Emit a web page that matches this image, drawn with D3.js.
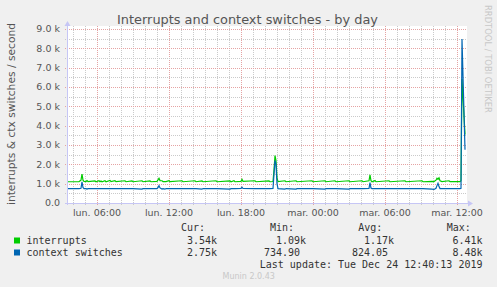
<!DOCTYPE html>
<html lang="fr">
<head>
<meta charset="UTF-8" />
<title>Interrupts and context switches - by day</title>
<style>
  body { margin: 0; background: #f0f0f0; }
  svg { display: block; font-family: "DejaVu Sans", sans-serif; }
  .mono { font-family: "DejaVu Sans Mono", monospace; font-size: 10px; fill: #333; white-space: pre; }
</style>
</head>
<body>
<svg id="chart"></svg>
<script src="https://cdnjs.cloudflare.com/ajax/libs/d3/7.8.5/d3.min.js"></script>
<script>
// sample times (5 min steps, only where the line changes) and values per second
const times = [
  "2019-12-23 03:30", "2019-12-23 04:30", "2019-12-23 04:40", "2019-12-23 04:45", "2019-12-23 04:50",
  "2019-12-23 04:55", "2019-12-23 05:05", "2019-12-23 05:10", "2019-12-23 05:15", "2019-12-23 05:50",
  "2019-12-23 05:55", "2019-12-23 06:10", "2019-12-23 06:15", "2019-12-23 06:20", "2019-12-23 06:25",
  "2019-12-23 06:40", "2019-12-23 06:45", "2019-12-23 07:05", "2019-12-23 07:10", "2019-12-23 07:30",
  "2019-12-23 07:35", "2019-12-23 08:20", "2019-12-23 08:25", "2019-12-23 08:55", "2019-12-23 09:00",
  "2019-12-23 09:45", "2019-12-23 09:50", "2019-12-23 10:25", "2019-12-23 10:30", "2019-12-23 11:00",
  "2019-12-23 11:05", "2019-12-23 11:10", "2019-12-23 11:15", "2019-12-23 11:25", "2019-12-23 11:30",
  "2019-12-23 11:40", "2019-12-23 11:45", "2019-12-23 12:00", "2019-12-23 12:05", "2019-12-23 13:05",
  "2019-12-23 13:10", "2019-12-23 14:10", "2019-12-23 14:15", "2019-12-23 14:45", "2019-12-23 14:50",
  "2019-12-23 15:55", "2019-12-23 16:00", "2019-12-23 17:05", "2019-12-23 17:10", "2019-12-23 17:25",
  "2019-12-23 17:30", "2019-12-23 18:00", "2019-12-23 18:05", "2019-12-23 18:10", "2019-12-23 19:10",
  "2019-12-23 19:15", "2019-12-23 20:20", "2019-12-23 20:25", "2019-12-23 20:40", "2019-12-23 20:45",
  "2019-12-23 20:50", "2019-12-23 20:55", "2019-12-23 21:00", "2019-12-23 21:05", "2019-12-23 21:40",
  "2019-12-23 21:45", "2019-12-23 22:35", "2019-12-23 22:40", "2019-12-23 23:55", "2019-12-24 00:00",
  "2019-12-24 01:00", "2019-12-24 01:05", "2019-12-24 01:50", "2019-12-24 01:55", "2019-12-24 03:00",
  "2019-12-24 03:05", "2019-12-24 04:05", "2019-12-24 04:10", "2019-12-24 04:40", "2019-12-24 04:45",
  "2019-12-24 04:50", "2019-12-24 04:55", "2019-12-24 05:10", "2019-12-24 05:15", "2019-12-24 06:20",
  "2019-12-24 06:25", "2019-12-24 07:40", "2019-12-24 07:45", "2019-12-24 09:05", "2019-12-24 09:10",
  "2019-12-24 09:55", "2019-12-24 10:05", "2019-12-24 10:15", "2019-12-24 10:20", "2019-12-24 10:25",
  "2019-12-24 10:30", "2019-12-24 10:35", "2019-12-24 10:45", "2019-12-24 11:20", "2019-12-24 11:25",
  "2019-12-24 12:15", "2019-12-24 12:20", "2019-12-24 12:25", "2019-12-24 12:40"
];
const interrupts = [
  1100, 1110, 1180, 1500, 1180, 1120, 1110, 1160, 1110, 1140,
  1100, 1150, 1100, 1140, 1100, 1150, 1100, 1170, 1105, 1150,
  1105, 1150, 1100, 1140, 1100, 1150, 1100, 1140, 1100, 1120,
  1200, 1280, 1160, 1150, 1110, 1110, 1110, 1150, 1105, 1150,
  1100, 1150, 1100, 1140, 1100, 1150, 1100, 1140, 1100, 1150,
  1100, 1120, 1220, 1120, 1150, 1100, 1140, 1100, 1110, 1700,
  2450, 2200, 1300, 1110, 1150, 1100, 1150, 1100, 1150, 1100,
  1150, 1100, 1150, 1100, 1150, 1100, 1150, 1100, 1150, 1450,
  1150, 1100, 1160, 1100, 1150, 1100, 1150, 1100, 1150, 1100,
  1120, 1110, 1180, 1280, 1230, 1300, 1150, 1110, 1150, 1110,
  1110, 1150, 6410, 3540
];
const contextSwitches = [
  745, 745, 760, 1090, 800, 745, 745, 720, 745, 745,
  745, 745, 745, 745, 745, 745, 745, 745, 745, 745,
  745, 745, 745, 740, 745, 720, 745, 745, 745, 745,
  800, 900, 780, 720, 745, 715, 745, 745, 745, 745,
  745, 745, 745, 715, 745, 745, 745, 720, 745, 745,
  745, 760, 820, 750, 745, 745, 745, 745, 750, 1500,
  2200, 2000, 1000, 745, 715, 745, 720, 745, 745, 745,
  720, 745, 745, 745, 720, 745, 745, 745, 760, 1050,
  770, 745, 745, 745, 745, 745, 745, 745, 745, 745,
  720, 700, 760, 900, 1020, 850, 745, 745, 745, 745,
  745, 760, 8480, 2750
];

const seriesNames = ["interrupts", "context switches"];
const seriesColors = ["#00cc00", "#0066b3"];
const curValues = [3540, 2750];
const minValues = [1090, 734.90];
const avgValues = [1170, 824.05];
const maxValues = [6410, 8480];
const yTickValues = [0, 1000, 2000, 3000, 4000, 5000, 6000, 7000, 8000, 9000];

const W = 497, H = 287;
const plotLeft = 67, plotRight = 467, plotTop = 29, plotBottom = 203;

const parse = d3.timeParse("%Y-%m-%d %H:%M");
const dates = times.map(parse);

const fr = d3.timeFormatLocale({
  dateTime: "%A %e %B %Y à %X", date: "%d/%m/%Y", time: "%H:%M:%S",
  periods: ["AM", "PM"],
  days: ["dimanche", "lundi", "mardi", "mercredi", "jeudi", "vendredi", "samedi"],
  shortDays: ["dim.", "lun.", "mar.", "mer.", "jeu.", "ven.", "sam."],
  months: ["janvier", "février", "mars", "avril", "mai", "juin", "juillet", "août", "septembre", "octobre", "novembre", "décembre"],
  shortMonths: ["janv.", "févr.", "mars", "avr.", "mai", "juin", "juil.", "août", "sept.", "oct.", "nov.", "déc."]
});

const svg = d3.select("#chart").attr("width", W).attr("height", H);
svg.append("rect").attr("width", W).attr("height", H).attr("fill", "#f0f0f0");

const x = d3.scaleTime()
  .domain([parse("2019-12-23 03:30"), parse("2019-12-24 12:50")])
  .range([plotLeft, plotRight]);
const y = d3.scaleLinear().domain([0, 9000]).range([plotBottom, plotTop]);

// plot canvas
svg.append("rect")
  .attr("x", plotLeft).attr("y", 26)
  .attr("width", plotRight - plotLeft).attr("height", plotBottom - 26)
  .attr("fill", "#ffffff");

const crisp = (v) => Math.round(v) + 0.5;

// vertical grid
const hours = x.ticks(d3.timeHour.every(1));
const sixHours = x.ticks(d3.timeHour.every(6));
svg.append("g").selectAll("line").data(hours).join("line")
  .attr("x1", (d) => crisp(x(d))).attr("x2", (d) => crisp(x(d)))
  .attr("y1", plotTop - 3).attr("y2", plotBottom + 2)
  .attr("stroke", (d) => d.getHours() % 6 === 0 ? "#e5a3a3" : "#cacaca")
  .attr("stroke-dasharray", "1,1");

// horizontal grid
const halfK = d3.range(500, 9500, 500);
svg.append("g").selectAll("line").data(halfK).join("line")
  .attr("x1", plotLeft - 2).attr("x2", plotRight)
  .attr("y1", (d) => crisp(y(d))).attr("y2", (d) => crisp(y(d)))
  .attr("stroke", (d) => d % 1000 === 0 ? "#e5a3a3" : "#cacaca")
  .attr("stroke-dasharray", "1,1");

// series lines (interrupts first, context switches on top)
const line = (vals) => d3.line()
  .x((d, i) => x(dates[i]))
  .y((d) => y(d))(vals);

[interrupts, contextSwitches].forEach((vals, i) => {
  svg.append("path")
    .attr("d", line(vals))
    .attr("fill", "none")
    .attr("stroke", seriesColors[i])
    .attr("stroke-width", 1.2);
});

// axes with arrows
const axisColor = "#c6c6f5";
svg.append("line").attr("x1", plotLeft + 0.5).attr("x2", plotLeft + 0.5)
  .attr("y1", plotBottom + 2).attr("y2", 24).attr("stroke", axisColor);
svg.append("path").attr("d", `M${plotLeft - 2.5},26 L${plotLeft + 3.5},26 L${plotLeft + 0.5},21 Z`).attr("fill", axisColor);
svg.append("line").attr("x1", plotLeft - 2).attr("x2", plotRight + 2)
  .attr("y1", plotBottom + 0.5).attr("y2", plotBottom + 0.5).attr("stroke", axisColor);
svg.append("path").attr("d", `M${plotRight + 1},${plotBottom - 2.5} L${plotRight + 1},${plotBottom + 3.5} L${plotRight + 6},${plotBottom + 0.5} Z`).attr("fill", axisColor);

// y tick labels
svg.append("g").selectAll("text").data(yTickValues).join("text")
  .attr("x", 60).attr("y", (d) => y(d))
  .attr("dy", "0.35em")
  .attr("text-anchor", "end")
  .attr("font-size", "9.5px")
  .attr("fill", "#555")
  .text((d) => d === 0 ? "0.0" : (d / 1000).toFixed(1) + " k");

// x tick labels
const fmt = fr.format("%a %H:%M");
svg.append("g").selectAll("text").data(sixHours).join("text")
  .attr("x", (d) => x(d)).attr("y", 216)
  .attr("text-anchor", "middle")
  .attr("font-size", "9.5px")
  .attr("fill", "#555")
  .text(fmt);

// title
svg.append("text")
  .attr("x", 247.5).attr("y", 23.5)
  .attr("text-anchor", "middle")
  .attr("font-size", "12.9px")
  .attr("fill", "#555")
  .text("Interrupts and context switches - by day");

// vertical label
svg.append("text")
  .attr("transform", "translate(15,114) rotate(-90)")
  .attr("text-anchor", "middle")
  .attr("font-size", "10.7px")
  .attr("fill", "#555")
  .text("interrupts & ctx switches / second");

// watermark
svg.append("text")
  .attr("transform", "translate(485,5) rotate(90)")
  .attr("font-size", "8.4px")
  .attr("fill", "#c8c8c8")
  .text("RRDTOOL / TOBI OETIKER");

// legend
const fmtVal = (v) => v >= 1000 ? (v / 1000).toFixed(2) + "k" : v.toFixed(2);
const colEnds = [217, 306, 394, 482.5];
const colStarts = [181, 270, 358.3, 446.7];
const headers = ["Cur:", "Min:", "Avg:", "Max:"];
const cols = [curValues, minValues, avgValues, maxValues];
const rowY = [244, 256];

const legend = svg.append("g");
legend.selectAll("text.h").data(headers).join("text")
  .attr("class", "mono h")
  .attr("x", (d, i) => colStarts[i]).attr("y", 231)
  .text((d) => d);

seriesNames.forEach((name, r) => {
  legend.append("rect")
    .attr("x", 14).attr("y", rowY[r] - 6.5)
    .attr("width", 6).attr("height", 6)
    .attr("fill", seriesColors[r]);
  legend.append("text").attr("class", "mono")
    .attr("x", 26.5).attr("y", rowY[r]).text(name);
  cols.forEach((vals, c) => {
    const v = vals[r];
    legend.append("text").attr("class", "mono")
      .attr("x", colEnds[c] - (v >= 1000 ? 0 : 6))
      .attr("y", rowY[r])
      .attr("text-anchor", "end")
      .text(fmtVal(v));
  });
});

legend.append("text").attr("class", "mono")
  .attr("x", 482.5).attr("y", 267.5)
  .attr("text-anchor", "end")
  .text("Last update: Tue Dec 24 12:40:13 2019");

svg.append("text")
  .attr("x", 222.5).attr("y", 279)
  .attr("font-size", "8px")
  .attr("fill", "#c8c8c8")
  .text("Munin 2.0.43");
</script>
</body>
</html>
